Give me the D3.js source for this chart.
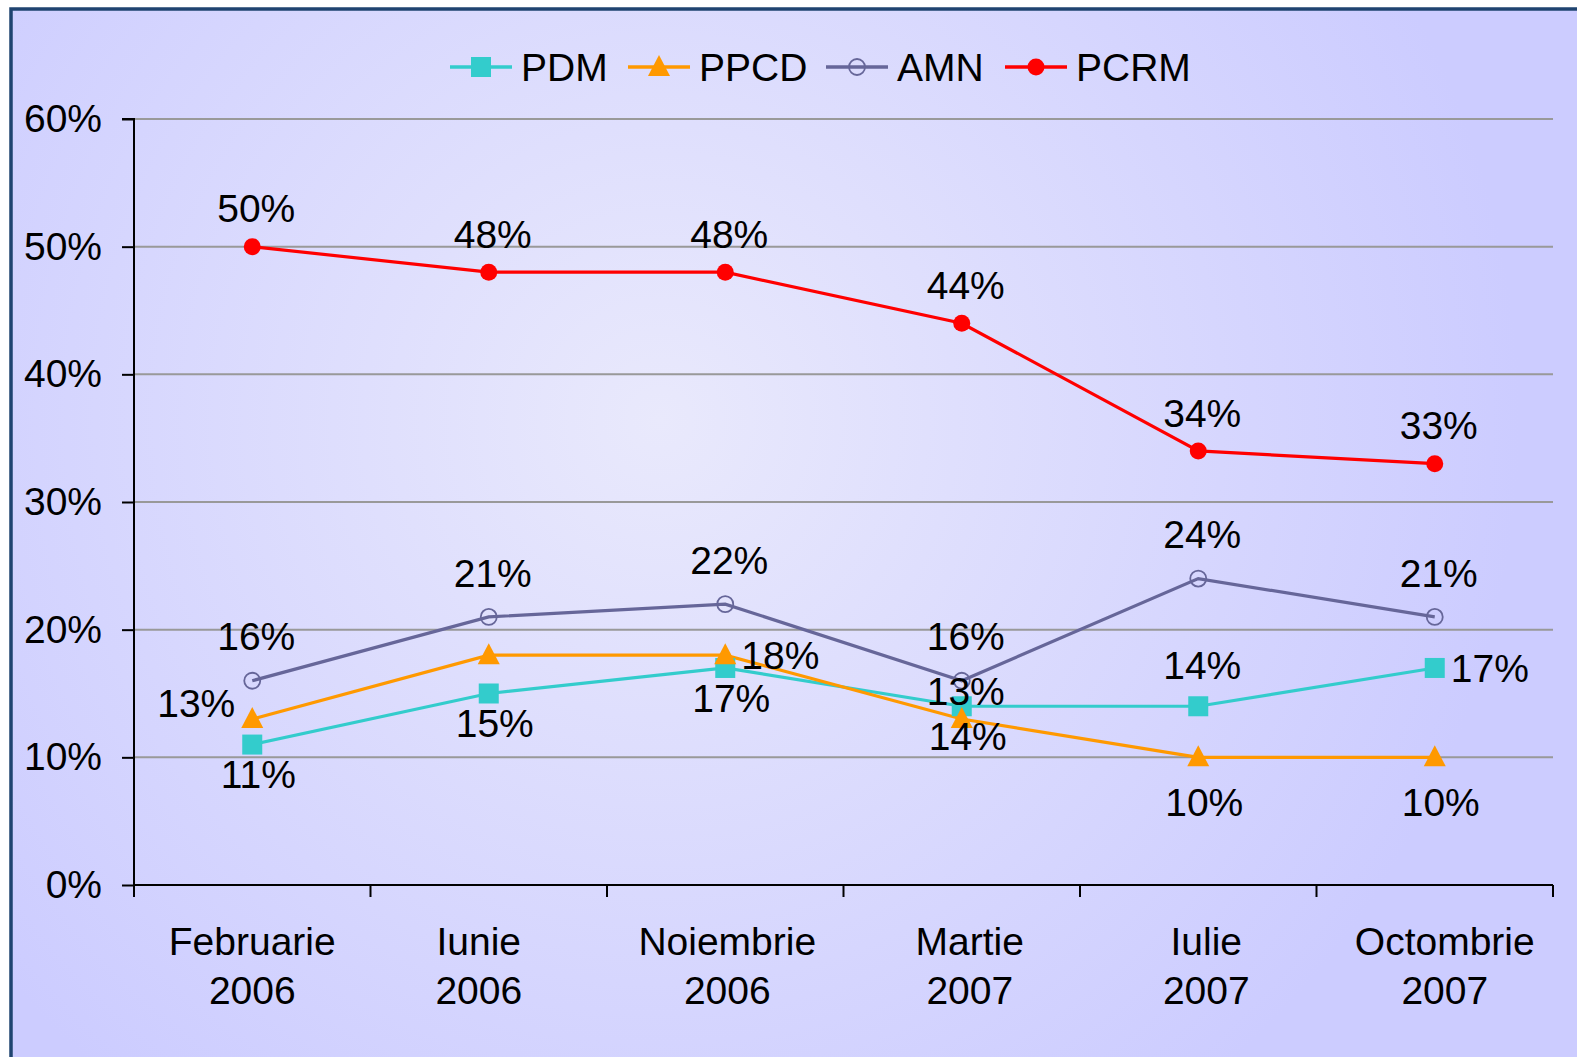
<!DOCTYPE html>
<html lang="en">
<head>
<script src="https://d3js.org/d3.v7.min.js"></script>
<style>
  body { margin: 0; background: #fff; }
  text { font-family: "Liberation Sans", Arial, sans-serif; fill: #000; }
  .grid line { stroke: #999; stroke-width: 2px; }
</style>
</head>
<body>
<svg id="chart" width="1577" height="1057"></svg>
<script>
// categories and series (values in percent)
const categories = [["Februarie", "2006"], ["Iunie", "2006"], ["Noiembrie", "2006"],
                    ["Martie", "2007"], ["Iulie", "2007"], ["Octombrie", "2007"]];
const seriesNames = ["PDM", "PPCD", "AMN", "PCRM"];
const pdm  = [11, 15, 17, 14, 14, 17];
const ppcd = [13, 18, 18, 13, 10, 10];
const amn  = [16, 21, 22, 16, 24, 21];
const pcrm = [50, 48, 48, 44, 34, 33];
const yTicks = [0, 10, 20, 30, 40, 50, 60];
// where each data label sits relative to its point (null = no label)
const pdmLabelPos  = ["below", "below", "below", "below", "above", "right"];
const ppcdLabelPos = ["left", null, "right", "above", "below", "below"];
const amnLabelPos  = ["above", "above", "above", "above", "above", "above"];
const pcrmLabelPos = ["above", "above", "above", "above", "above", "above"];

const FS = 39;
const svg = d3.select("#chart");

// background gradient
const defs = svg.append("defs");
const grad = defs.append("radialGradient").attr("id", "bg")
  .attr("gradientUnits", "userSpaceOnUse")
  .attr("cx", 660).attr("cy", 420).attr("r", 860);
grad.append("stop").attr("offset", "0%").attr("stop-color", "#e9e9fc");
grad.append("stop").attr("offset", "100%").attr("stop-color", "#ccccff");

svg.append("rect").attr("x", 11).attr("y", 9).attr("width", 1600).attr("height", 1100)
   .attr("fill", "url(#bg)").attr("stroke", "#1f4470").attr("stroke-width", 3.5);

const plotL = 134, plotR = 1553, plotT = 119, plotB = 885;

const x = d3.scaleBand().domain(d3.range(categories.length)).range([plotL, plotR]);
const y = d3.scaleLinear().domain([0, 60]).range([plotB, plotT]);
const cx = i => x(i) + x.bandwidth() / 2;

// gridlines
svg.append("g").attr("class", "grid")
   .selectAll("line").data(yTicks.filter(d => d > 0)).join("line")
   .attr("x1", plotL).attr("x2", plotR)
   .attr("y1", d => y(d)).attr("y2", d => y(d));

// y axis
const yAxis = svg.append("g").attr("transform", `translate(${plotL},0)`)
  .call(d3.axisLeft(y).tickValues(yTicks).tickFormat(d => d + "%").tickSize(12).tickPadding(20));
yAxis.select(".domain").attr("stroke", "#000").attr("stroke-width", 2).attr("d", `M-12,${plotT}H0V${plotB}`);
yAxis.selectAll(".tick line").attr("stroke", "#000").attr("stroke-width", 2);
yAxis.selectAll(".tick text").attr("font-size", FS).attr("font-family", "Liberation Sans, Arial, sans-serif").attr("fill", "#000");

// x axis
const xTickPos = d3.range(categories.length + 1).map(i => plotL + i * x.bandwidth());
const xNudge = [0, -10, 2, 8, 8, 10];
const xa = svg.append("g");
xa.append("line").attr("x1", plotL).attr("x2", plotR).attr("y1", plotB).attr("y2", plotB)
  .attr("stroke", "#000").attr("stroke-width", 2);
xa.selectAll("line.tk").data(xTickPos).join("line").attr("class", "tk")
  .attr("x1", d => d).attr("x2", d => d).attr("y1", plotB).attr("y2", plotB + 12)
  .attr("stroke", "#000").attr("stroke-width", 2);
const xl = xa.selectAll("text").data(categories).join("text")
  .attr("text-anchor", "middle").attr("font-size", FS)
  .attr("transform", (d, i) => `translate(${cx(i) + xNudge[i]},0)`);
xl.append("tspan").attr("x", 0).attr("y", 955).text(d => d[0]);
xl.append("tspan").attr("x", 0).attr("y", 1004).text(d => d[1]);

const series = [
  { name: "PDM",  values: pdm,  pos: pdmLabelPos,  color: "#33cccc", marker: "square",   up: 41, down: 30 },
  { name: "PPCD", values: ppcd, pos: ppcdLabelPos, color: "#ff9900", marker: "triangle", up: 28, down: 45 },
  { name: "AMN",  values: amn,  pos: amnLabelPos,  color: "#666699", marker: "open",     up: 44, down: 30 },
  { name: "PCRM", values: pcrm, pos: pcrmLabelPos, color: "#ff0000", marker: "circle",   up: 38, down: 30 }
];

function drawMarker(g, s, px, py) {
  if (s.marker === "square") {
    g.append("rect").attr("x", px - 10).attr("y", py - 10).attr("width", 20).attr("height", 20).attr("fill", s.color);
  } else if (s.marker === "triangle") {
    g.append("path").attr("d", `M${px},${py - 12}L${px + 11},${py + 9}L${px - 11},${py + 9}Z`).attr("fill", s.color);
  } else if (s.marker === "open") {
    g.append("circle").attr("cx", px).attr("cy", py).attr("r", 8).attr("fill", "none")
     .attr("stroke", s.color).attr("stroke-width", 1.8);
  } else {
    g.append("circle").attr("cx", px).attr("cy", py).attr("r", 8.5).attr("fill", s.color);
  }
}

const line = d3.line().x((d, i) => cx(i)).y(d => y(d));
const plot = svg.append("g");
series.forEach(s => {
  plot.append("path").datum(s.values).attr("d", line)
      .attr("fill", "none").attr("stroke", s.color).attr("stroke-width", 3.2);
});
series.forEach(s => {
  s.values.forEach((v, i) => drawMarker(plot, s, cx(i), y(v)));
});

// data labels
const labels = svg.append("g");
series.forEach(s => {
  s.values.forEach((v, i) => {
    const p = s.pos[i];
    if (!p) return;
    let tx = cx(i), ty = y(v), anchor = "middle";
    if (p === "above") { tx += 4; ty -= s.up; }
    else if (p === "below") { tx += 6; ty += s.down; }
    else if (p === "left") { tx -= 17; ty -= 16; anchor = "end"; }
    else if (p === "right") { tx += 16; anchor = "start"; }
    labels.append("text").attr("x", tx).attr("y", ty).attr("dy", "0.35em")
      .attr("text-anchor", anchor).attr("font-size", FS).text(v + "%");
  });
});

// legend
const legendX = [450, 628, 826, 1005];
const leg = svg.append("g");
series.forEach((s, k) => {
  const lx = legendX[k], ly = 67;
  leg.append("line").attr("x1", lx).attr("x2", lx + 62).attr("y1", ly).attr("y2", ly)
     .attr("stroke", s.color).attr("stroke-width", 3.5);
  drawMarker(leg, s, lx + 31, ly);
  leg.append("text").attr("x", lx + 71).attr("y", ly).attr("dy", "0.35em")
     .attr("font-size", FS).text(s.name);
});
</script>
</body>
</html>
